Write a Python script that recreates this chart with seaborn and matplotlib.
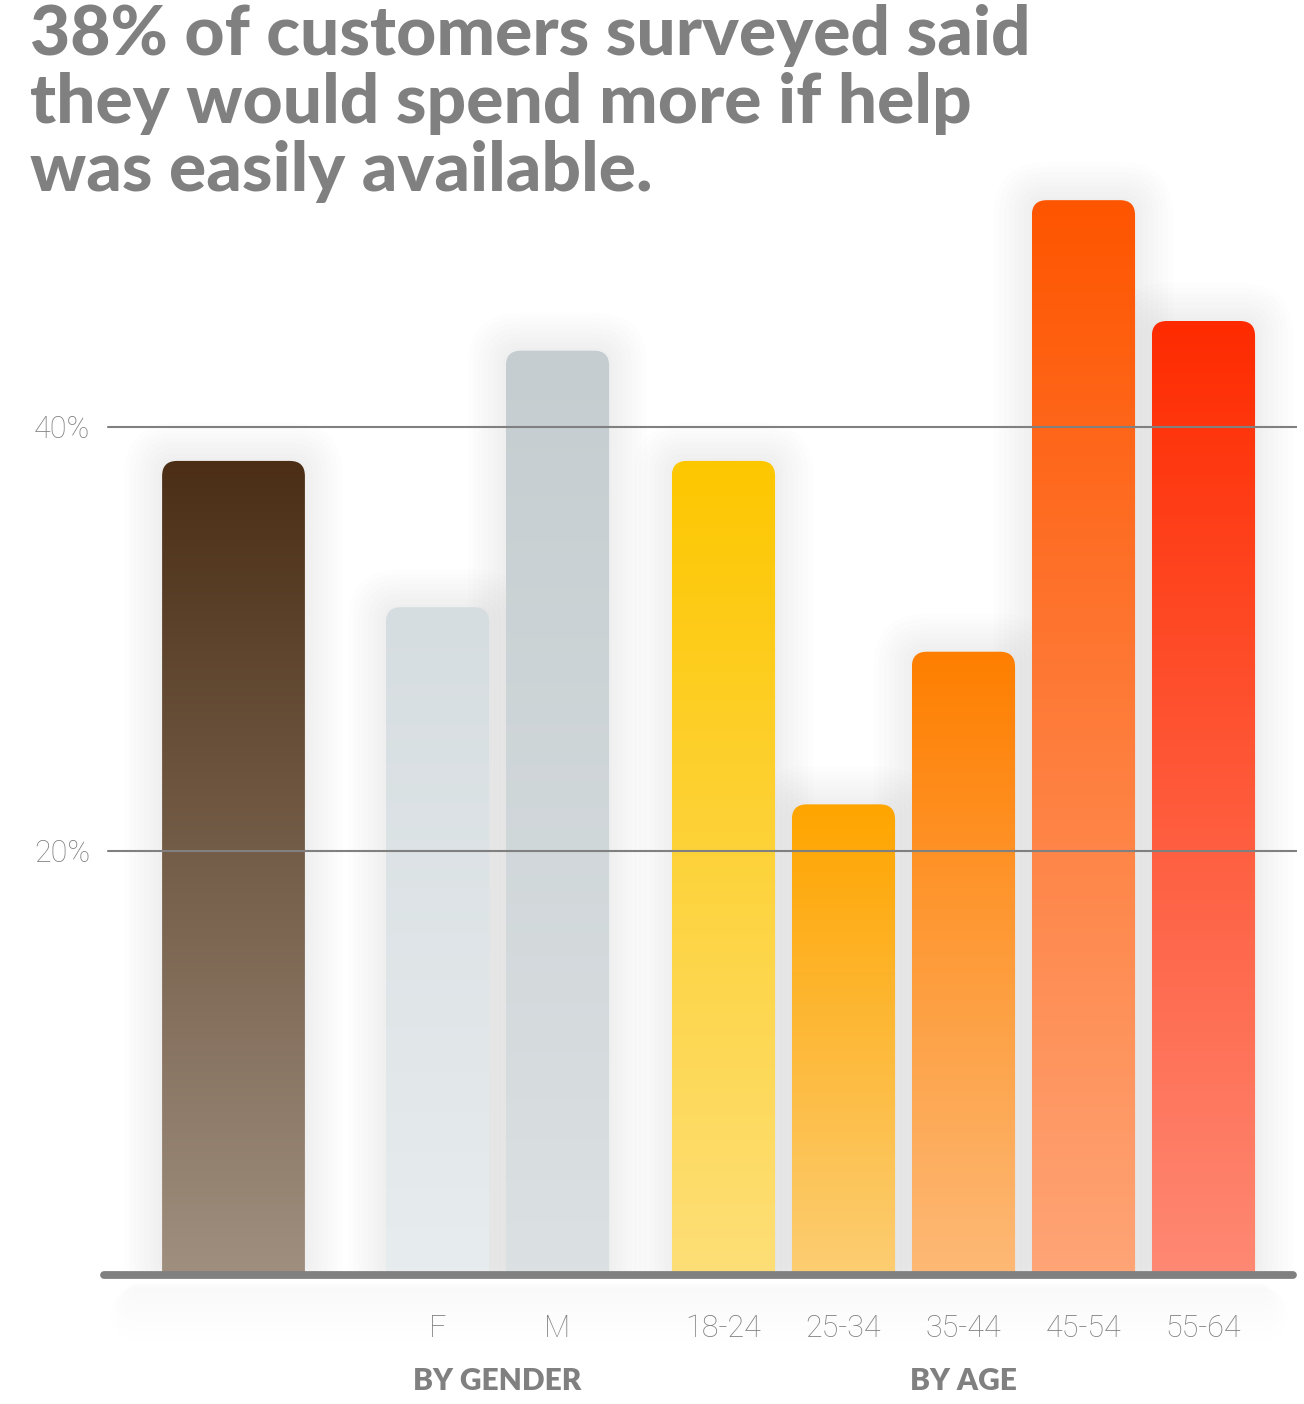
import numpy as np
import pandas as pd
import matplotlib
matplotlib.use('Agg')
import matplotlib.pyplot as plt
import seaborn as sns
from matplotlib.patches import FancyBboxPatch
from matplotlib.colors import to_rgb

# data (percent)
categories = ['All', 'F', 'M', '18-24', '25-34', '35-44', '45-54', '55-64']
groups = ['', 'BY GENDER', 'BY GENDER', 'BY AGE', 'BY AGE', 'BY AGE', 'BY AGE', 'BY AGE']
values = [38.4, 31.5, 43.6, 38.4, 22.2, 29.4, 50.7, 45.0]
tick_labels = ['', 'F', 'M', '18-24', '25-34', '35-44', '45-54', '55-64']
y_ticks = [20, 40]
y_tick_labels = ['20%', '40%']
title = '38% of customers surveyed said\nthey would spend more if help\nwas easily available.'

# gradient colours (top, bottom) for each bar
top_colors = ['#4b2e15', '#d6dde0', '#c5cdd0', '#fec700', '#ffa500', '#ff7f00', '#ff5500', '#ff2b00']
bottom_colors = ['#a39383', '#e8edef', '#dce1e3', '#fde07c', '#fcd07a', '#fdbc7c', '#fea77a', '#fe8c78']

# layout: slot spacing is one unit, with gaps between groups
positions = [-1.7, 0, 1, 2.383, 3.383, 4.383, 5.383, 6.383]
widths = [1.19, 0.86, 0.86, 0.86, 0.86, 0.86, 0.86, 0.86]

sns.set_theme(style='white')
plt.rcParams['font.family'] = ['Lato', 'DejaVu Sans']
grey = '#808080'

W, H = 1304, 1404
fig = plt.figure(figsize=(W / 100, H / 100), dpi=100)
ax_left, ax_right, ax_bottom, ax_top = 100, 1297, 1275, 120
ax = fig.add_axes([ax_left / W, (H - ax_bottom) / H,
                   (ax_right - ax_left) / W, (ax_bottom - ax_top) / H])
ax.set_facecolor('none')

df = pd.DataFrame({'label': categories, 'group': groups, 'pct': values, 'pos': positions})
sns.barplot(data=df, x='pos', y='pct', native_scale=True, errorbar=None,
            color='white', ax=ax)

px_per_x = 120.0
px_per_y = 21.2
ylim_top = (ax_bottom - ax_top) / px_per_y
xlim = ((ax_left - 437.5) / px_per_x, (ax_right - 437.5) / px_per_x)
ax.set_xlim(*xlim)
ax.set_ylim(0, ylim_top)
aspect = px_per_x / px_per_y

bars = sorted(ax.patches, key=lambda p: p.get_x())
for i, bar in enumerate(bars):
    bar.set_visible(False)
    h = bar.get_height()
    xc = bar.get_x() + bar.get_width() / 2
    w = widths[i]
    x0 = xc - w / 2
    y0 = -1.5
    # soft shadow (kept above the baseline)
    for k in range(8):
        p = (3 + 5 * k) / px_per_x
        sh = FancyBboxPatch((x0, 0), w, h,
                            boxstyle=f'round,pad={p},rounding_size={15 / px_per_x + p}',
                            mutation_aspect=aspect, fc='black', ec='none',
                            alpha=0.006, zorder=1)
        ax.add_patch(sh)
    box = FancyBboxPatch((x0, y0), w, h - y0,
                         boxstyle=f'round,pad=0,rounding_size={15 / px_per_x}',
                         mutation_aspect=aspect, fc='none', ec='none', zorder=2)
    ax.add_patch(box)
    top = np.array(to_rgb(top_colors[i]))
    bot = np.array(to_rgb(bottom_colors[i]))
    t = np.linspace(0, 1, 256)[:, None, None]
    grad = bot + (top - bot) * t
    im = ax.imshow(grad, extent=[x0, x0 + w, y0, h], origin='lower',
                   aspect='auto', zorder=2, interpolation='bilinear')
    im.set_clip_path(box)

ax.set_xlim(*xlim)
ax.set_ylim(0, ylim_top)

# grid lines over bars
gx0 = xlim[0] + 8 / px_per_x
for yv in y_ticks:
    ax.plot([gx0, xlim[1]], [yv, yv], color=grey, lw=1.5, zorder=3)

# thick baseline with faint glow
cap = 4 / px_per_x
for k in range(6):
    ax.plot([xlim[0] + 0.3, xlim[1] - 0.3], [-0.6 - 0.25 * k, -0.6 - 0.25 * k],
            color='black', alpha=0.004, lw=8 + 6 * k, solid_capstyle='round',
            zorder=1, clip_on=False)
ax.plot([xlim[0] + cap, xlim[1] - cap], [0, 0], color=grey, lw=5.6,
        solid_capstyle='round', zorder=4, clip_on=False)

for s in ax.spines.values():
    s.set_visible(False)

ax.set_yticks(y_ticks)
ax.set_yticklabels(y_tick_labels)
ax.set_xticks(positions[1:])
ax.set_xticklabels(tick_labels[1:])
ax.tick_params(axis='y', length=0, pad=7, labelsize=22, labelcolor=grey)
ax.tick_params(axis='x', length=0, pad=28, labelsize=22, labelcolor=grey)
for lab in ax.get_xticklabels() + ax.get_yticklabels():
    lab.set_family(['Roboto', 'DejaVu Sans'])
    lab.set_fontweight('light')
ax.set_xlabel('')
ax.set_ylabel('')

# group labels
for g in ['BY GENDER', 'BY AGE']:
    xs = df.loc[df['group'] == g, 'pos']
    ax.annotate(g, xy=((xs.min() + xs.max()) / 2, 0), xycoords=('data', 'axes fraction'),
                xytext=(0, -106 * 0.72), textcoords='offset points',
                ha='center', va='center', fontsize=21.5, fontweight='heavy', color=grey)

fig.text(30 / W, 1 - 4 / H, title, ha='left', va='top', fontsize=50,
         fontweight='black', color=grey, linespacing=1.1)

fig.savefig('out.png', dpi=100, facecolor='white')
